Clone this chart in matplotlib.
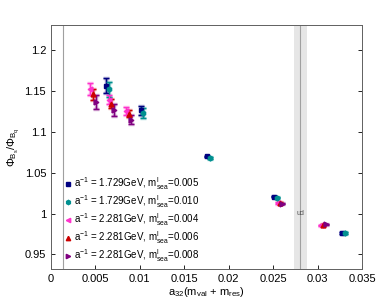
import matplotlib
matplotlib.use('Agg')
import matplotlib.pyplot as plt

plt.rcParams['font.family'] = ['Liberation Sans', 'DejaVu Sans']
plt.rcParams['mathtext.fontset'] = 'custom'
plt.rcParams['mathtext.rm'] = 'Liberation Sans'
plt.rcParams['mathtext.it'] = 'Liberation Sans'

# a^-1 = 1.729GeV, m_sea = 0.005
x_1729_005 = [0.00619, 0.01009, 0.01759, 0.02513, 0.03278]
y_1729_005 = [1.1565, 1.1265, 1.0700, 1.0205, 0.9762]
e_1729_005 = [0.0090, 0.0055, 0.0010, 0.0008, 0.0008]

# a^-1 = 1.729GeV, m_sea = 0.010
x_1729_010 = [0.00656, 0.01039, 0.01790, 0.02547, 0.03310]
y_1729_010 = [1.1520, 1.1230, 1.0680, 1.0195, 0.9760]
e_1729_010 = [0.0095, 0.0060, 0.0010, 0.0008, 0.0008]

# a^-1 = 2.281GeV, m_sea = 0.004
x_2281_004 = [0.00439, 0.00649, 0.00840, 0.02550, 0.03040]
y_2281_004 = [1.1525, 1.1395, 1.1255, 1.0130, 0.9855]
e_2281_004 = [0.0070, 0.0055, 0.0045, 0.0008, 0.0008]

# a^-1 = 2.281GeV, m_sea = 0.006
x_2281_006 = [0.00476, 0.00675, 0.00878, 0.02575, 0.03064]
y_2281_006 = [1.1460, 1.1345, 1.1225, 1.0128, 0.9858]
e_2281_006 = [0.0065, 0.0055, 0.0045, 0.0008, 0.0008]

# a^-1 = 2.281GeV, m_sea = 0.008
x_2281_008 = [0.00506, 0.00709, 0.00900, 0.02604, 0.03095]
y_2281_008 = [1.1370, 1.1270, 1.1150, 1.0123, 0.9868]
e_2281_008 = [0.0085, 0.0070, 0.0055, 0.0008, 0.0008]

labels = [r'a$^{-1}$ = 1.729GeV, m$^{\mathrm{l}}_{\mathrm{sea}}$=0.005',
          r'a$^{-1}$ = 1.729GeV, m$^{\mathrm{l}}_{\mathrm{sea}}$=0.010',
          r'a$^{-1}$ = 2.281GeV, m$^{\mathrm{l}}_{\mathrm{sea}}$=0.004',
          r'a$^{-1}$ = 2.281GeV, m$^{\mathrm{l}}_{\mathrm{sea}}$=0.006',
          r'a$^{-1}$ = 2.281GeV, m$^{\mathrm{l}}_{\mathrm{sea}}$=0.008']

m_ud_phys = 0.00135
m_s_phys = 0.02806
m_s_lo, m_s_hi = 0.02738, 0.02877

fig = plt.figure(figsize=(3.79, 3.03), dpi=100)
ax = fig.add_axes([0.1346, 0.112, 0.8206, 0.8055])

ax.axvspan(m_s_lo, m_s_hi, color='#e6e6e6', lw=0, zorder=0)
ax.axvline(m_s_phys, color='#a0a0a0', lw=0.8, zorder=1)
ax.axvline(m_ud_phys, color='#a0a0a0', lw=0.8, zorder=1)
ax.text(m_s_phys, 1.0, 'ud', fontsize=5, ha='center', va='center', color='#505050')

series = [
    (x_1729_005, y_1729_005, e_1729_005, '#000080', 's'),
    (x_1729_010, y_1729_010, e_1729_010, '#009090', 'h'),
    (x_2281_004, y_2281_004, e_2281_004, '#ff33cc', '<'),
    (x_2281_006, y_2281_006, e_2281_006, '#cc0000', '^'),
    (x_2281_008, y_2281_008, e_2281_008, '#800080', '>'),
]

for (x, y, e, c, m), lab in zip(series, labels):
    ax.errorbar(x, y, yerr=e, fmt='none', ecolor=c, alpha=0.3, elinewidth=2.5,
                capsize=2.5, capthick=2.5, zorder=2)
    ax.errorbar(x, y, yerr=e, fmt='none', ecolor=c, elinewidth=1,
                capsize=2, capthick=1, zorder=3)
    ax.plot(x, y, m, color=c, ms=3.5, ls='none', label=lab, zorder=4)

ax.set_xlim(0, 0.035)
ax.set_ylim(0.932, 1.231)
ax.set_xticks([0, 0.005, 0.01, 0.015, 0.02, 0.025, 0.03, 0.035])
ax.set_xticklabels(['0', '0.005', '0.01', '0.015', '0.02', '0.025', '0.03', '0.035'])
ax.set_yticks([0.95, 1.0, 1.05, 1.1, 1.15, 1.2])
ax.set_yticklabels(['0.95', '1', '1.05', '1.1', '1.15', '1.2'])
ax.tick_params(direction='in', length=3, labelsize=8, right=True, width=0.6)
for s in ax.spines.values():
    s.set_color('#606060')
    s.set_linewidth(0.7)

ax.set_xlabel(r'a$_{32}$(m$_{\mathrm{val}}$ + m$_{\mathrm{res}}$)', fontsize=8, labelpad=1)
ax.set_ylabel(r'$\Phi_{\mathrm{B}_{\mathrm{s}}}/\Phi_{\mathrm{B}_{\mathrm{q}}}$', fontsize=8, labelpad=2)

ax.legend(loc='lower left', frameon=False, fontsize=7, handlelength=0.6,
          handletextpad=0.3, labelspacing=0.12, borderaxespad=0.1,
          bbox_to_anchor=(0.03, 0.0), markerscale=0.9)

fig.savefig('out.png', dpi=100)
